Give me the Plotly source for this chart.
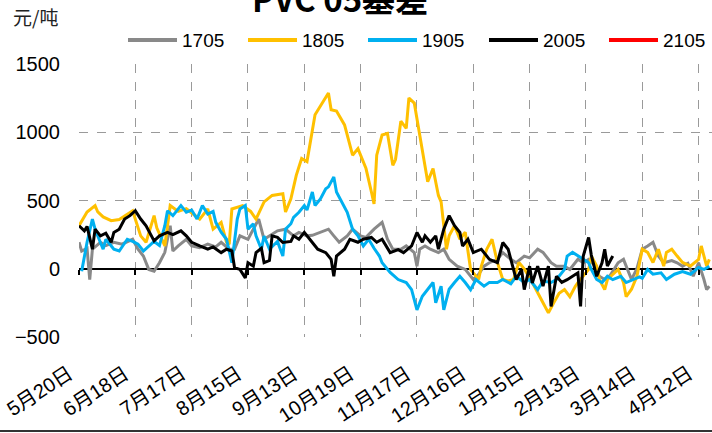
import plotly.graph_objects as go

# ---------------- data (day index since 5月20日, basis value 元/吨) ----------------
tick_labels = ["5月20日", "6月18日", "7月17日", "8月15日", "9月13日", "10月19日",
               "11月17日", "12月16日", "1月15日", "2月13日", "3月14日", "4月12日"]
tick_index = [0, 21, 42, 63, 84, 105, 126, 147, 168, 189, 210, 231]

s1705_x = [0,1,3,4,5,8,10,13,16,20,22,24,26,28,30,32,34,35,37,40,42,45,48,51,53,56,58,60,63,65,
           67,69,71,74,77,80,82,85,87,90,93,95,97,100,102,105,107,110,112,113,115,117,120,122,125,
           126,127,129,131,134,136,138,141,144,147,149,151,153,156,158,161,163,166,168,171,173,176,
           178,181,183,186,188,190,192,194,196,198,201,203,206,208,210,212,214,216,218,221,223,225,
           227,229,231,233,234,235]
s1705_y = [194,130,150,-79,143,194,170,194,180,216,143,93,-5,-18,44,120,315,130,167,216,167,155,180,
           160,194,143,143,241,216,290,364,216,241,278,290,241,266,241,245,266,290,241,194,241,290,
           241,230,290,327,340,216,143,143,167,118,19,143,167,143,118,143,69,19,-5,-79,-40,19,44,69,
           118,69,44,93,80,143,120,44,19,19,-5,69,44,69,30,-55,-79,-50,44,69,-79,0,143,167,194,93,
           44,60,44,19,40,-55,44,-79,-153,-128]

s1805_x = [0,3,6,7,9,12,15,20,23,25,28,29,32,34,37,40,45,48,50,53,55,56,57,61,64,66,69,72,76,77,
           79,81,83,85,88,90,93,94,96,99,101,102,104,105,107,109,110,111,113,115,117,118,120,122,123,
           125,127,129,130,132,134,135,137,138,140,142,144,146,149,150,152,154,156,158,160,162,164,
           166,169,173,175,177,179,181,183,185,186,190,191,193,194,196,197,201,203,204,206,208,210,
           212,214,216,218,219,221,223,225,228,231,232,234,235]
s1805_y = [315,416,463,416,380,352,360,425,241,194,389,300,167,463,420,440,364,438,290,340,194,180,
           438,463,420,364,490,537,549,416,512,684,808,785,1128,1192,1288,1165,1155,1054,906,832,880,
           832,734,564,475,832,980,992,758,800,1081,1029,1251,1214,980,758,638,734,537,490,143,241,
           315,216,268,-5,-79,19,143,216,46,-79,-90,-79,46,0,-101,-249,-323,-249,-180,-153,-205,-130,
           -101,-5,93,20,-79,-153,-79,-5,-101,-205,-150,-55,143,120,46,143,19,120,143,93,46,20,69,
           167,19,69]

s1905_x = [1,3,5,6,7,9,10,13,15,18,20,22,24,26,28,30,32,33,35,38,40,42,44,46,48,50,51,53,55,57,
           59,60,62,63,65,66,68,69,71,74,76,77,79,80,82,84,85,87,88,90,92,93,95,96,98,100,102,104,
           106,108,110,112,113,116,119,122,124,126,128,130,132,133,135,136,138,140,142,144,146,148,
           150,151,153,156,158,161,163,166,168,171,173,176,178,181,182,184,187,190,191,193,195,197,
           199,202,204,207,209,210,212,214,217,219,222,225,228,231,233,235]
s1905_y = [-18,194,364,290,240,143,216,143,130,216,200,180,130,167,200,170,315,425,389,463,414,430,
           364,463,400,420,340,268,216,44,364,438,463,290,330,241,143,240,143,200,93,290,330,377,414,
           463,430,562,463,512,586,600,673,562,488,414,290,241,167,216,150,93,44,-27,-79,-101,-153,
           -301,-202,-153,-101,-249,-128,-301,-150,-101,-55,-101,-153,-79,-110,-128,-100,-101,-79,
           -110,-55,-101,-79,-153,-90,-101,-79,-5,93,120,83,44,-5,-79,-101,-55,-80,-55,-101,-79,-60,
           -70,-5,-40,-30,-79,-40,-20,-40,10,-5,19]

s2005_x = [0,2,3,5,6,8,10,12,13,15,17,19,21,23,25,26,28,30,33,35,38,40,42,45,48,50,53,55,57,58,
           60,62,63,65,66,68,69,71,72,74,76,79,80,82,84,87,89,92,94,95,96,99,101,104,106,109,111,113,
           116,119,121,124,126,128,129,131,133,134,136,138,140,142,143,145,147,150,151,153,156,158,
           160,162,163,165,166,168,169,171,173,175,176,178,180,182,184,186,187,188,190,191,193,195,
           196,197,199]
s2005_y = [315,278,310,143,290,241,260,194,266,290,364,389,425,364,315,278,204,241,266,250,278,241,
           194,167,143,160,118,143,130,7,-5,-67,44,19,118,150,44,60,241,230,192,200,241,216,266,192,
           143,118,69,-55,93,143,216,194,216,229,194,216,118,140,118,167,266,194,241,194,241,143,290,
           389,315,266,167,216,118,143,120,69,44,192,143,-5,-79,-5,-153,19,-104,19,-128,19,-276,-55,
           -100,-80,-55,-30,-276,93,229,100,-55,44,143,20,93]

s2105_x = []
s2105_y = []

series = [
    ("1705", s1705_x, s1705_y, "#898989"),
    ("1805", s1805_x, s1805_y, "#FFC000"),
    ("1905", s1905_x, s1905_y, "#00B0F0"),
    ("2005", s2005_x, s2005_y, "#000000"),
    ("2105", s2105_x, s2105_y, "#FF0000"),
]

# ---------------- figure ----------------
W, H = 712, 433
L, R, T, B = 79, 0, 64, 96
PW, PH = W - L - R, H - T - B

def px_x(px):
    return (px - L) / PW

def px_y(py):
    return 1 - (py - T) / PH

fig = go.Figure()
for name, xs, ys, col in series:
    fig.add_trace(go.Scatter(x=xs, y=ys, mode="lines", name=name,
                             line=dict(color=col, width=3), showlegend=False))

# helper trace for the zero-axis tick marks
fig.add_trace(go.Scatter(x=[0], y=[0], xaxis="x2", mode="none", showlegend=False, hoverinfo="skip"))

grid = dict(showgrid=True, gridcolor="#9a9a9a", griddash="dash", gridwidth=1)

fig.update_layout(
    width=W, height=H,
    margin=dict(l=L, r=R, t=T, b=B, autoexpand=False),
    paper_bgcolor="white", plot_bgcolor="white",
    font=dict(family="Liberation Sans, Arial, Noto Sans CJK SC", color="#000"),
    xaxis=dict(range=[0, 236], tickmode="array", tickvals=tick_index, showticklabels=False,
               ticks="", automargin=False, zeroline=False, showline=False, **grid),
    xaxis2=dict(overlaying="x", anchor="free", position=0.25, range=[0, 236],
                tickmode="array", tickvals=tick_index, showticklabels=False,
                ticks="outside", ticklen=5, tickwidth=1.5, tickcolor="#000", automargin=False,
                showgrid=False, zeroline=False, showline=False),
    yaxis=dict(range=[-500, 1500], tickmode="array", tickvals=[-500, 0, 500, 1000, 1500],
               ticktext=["−500", "0", "500", "1000", "1500"],
               tickfont=dict(size=20), ticks="", ticklabelstandoff=18, automargin=False,
               zeroline=True, zerolinecolor="#000", zerolinewidth=2.4, showline=False, **grid),
)

# rotated category labels under the plot, anchored at each tick
for tv, tt in zip(tick_index, tick_labels):
    fig.add_annotation(text=tt, xref="x", yref="paper", x=tv, y=px_y(359),
                       xanchor="right", yanchor="top", textangle=-33, showarrow=False,
                       font=dict(size=20, family="Liberation Sans, Noto Sans CJK SC", color="#000"))

# title (partly cut off at top, as in the reference)
fig.add_annotation(text="<b>PVC 05基差</b>", xref="paper", yref="paper",
                   x=px_x(340), y=px_y(-2), xanchor="center", yanchor="middle",
                   showarrow=False, font=dict(size=33, family="Noto Sans CJK SC", color="#000"))
# unit label
fig.add_annotation(text="元/吨", xref="paper", yref="paper",
                   x=px_x(11), y=px_y(17), xanchor="left", yanchor="middle",
                   showarrow=False, font=dict(size=19, family="Noto Sans CJK SC", color="#222"))

# manual legend
leg_start = [128, 248, 368, 489, 609]
for (name, xs, ys, col), sx in zip(series, leg_start):
    fig.add_shape(type="line", xref="paper", yref="paper",
                  x0=px_x(sx), x1=px_x(sx + 49), y0=px_y(40), y1=px_y(40),
                  line=dict(color=col, width=4))
    fig.add_annotation(text=name, xref="paper", yref="paper",
                       x=px_x(sx + 52), y=px_y(40), xanchor="left", yanchor="middle",
                       showarrow=False, font=dict(size=19, family="Liberation Sans", color="#000"))

# bottom frame line
fig.add_shape(type="line", xref="paper", yref="paper", x0=px_x(0), x1=px_x(W),
              y0=px_y(431), y1=px_y(431), line=dict(color="#333", width=2))

# remove the browser's default page margin so the figure sits at the window's corner
fig.write_html("out.html", config={"displayModeBar": False},
               post_script="document.body.style.margin='0px';")
